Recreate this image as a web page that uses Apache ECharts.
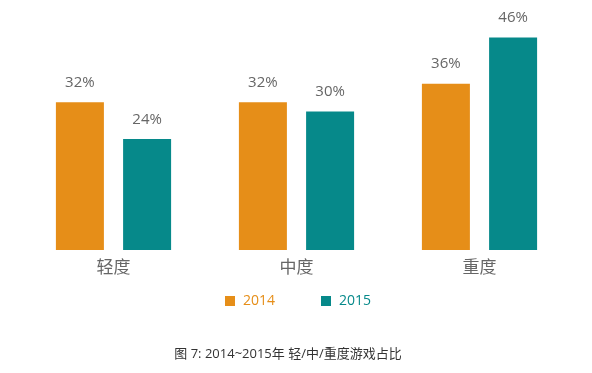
<!DOCTYPE html>
<html>
<head>
<meta charset="utf-8">
<script src="https://cdn.jsdelivr.net/npm/echarts@6/dist/echarts.min.js"></script>
<style>html,body{margin:0;padding:0;background:#fff;}#c{width:592px;height:373px;}</style>
</head>
<body>
<div id="c"></div>
<script>
var categories = ['轻度', '中度', '重度'];
var seriesNames = ['2014', '2015'];
var values2014 = [32, 32, 36];
var values2015 = [24, 30, 46];
var caption = '图 7: 2014~2015年 轻/中/重度游戏占比';

var colors = ['#E68E18', '#06898A'];
var font = '"Open Sans", "Noto Sans CJK SC", sans-serif';
var chart = echarts.init(document.getElementById('c'));
chart.setOption({
  animation: false,
  color: colors,
  textStyle: { fontFamily: font },
  grid: { left: 22, right: 21, top: 19, bottom: 123, containLabel: false },
  xAxis: {
    type: 'category',
    data: categories,
    axisLine: { show: false },
    axisTick: { show: false },
    axisLabel: { color: '#666', fontSize: 17, margin: 10, fontFamily: font }
  },
  yAxis: {
    type: 'value', min: 0, max: 50,
    show: false,
    splitLine: { show: false }
  },
  legend: {
    data: [
      { name: seriesNames[0], textStyle: { color: colors[0] } },
      { name: seriesNames[1], textStyle: { color: colors[1] } }
    ],
    left: 225, top: 294, padding: 0,
    itemWidth: 10, itemHeight: 10,
    itemGap: 46,
    icon: 'rect',
    textStyle: { fontSize: 14, fontFamily: font, padding: [0, 0, 0, 3] }
  },
  series: [
    {
      name: seriesNames[0], type: 'bar', data: values2014,
      barWidth: 48, barGap: '40%',
      label: { show: true, position: 'top', distance: 12, formatter: '{c}%', color: '#666', fontSize: 15, fontFamily: font }
    },
    {
      name: seriesNames[1], type: 'bar', data: values2015,
      barWidth: 48, barGap: '40%',
      label: { show: true, position: 'top', distance: 12, formatter: '{c}%', color: '#666', fontSize: 15, fontFamily: font }
    }
  ],
  graphic: [{
    type: 'text', x: 288, y: 348,
    style: { text: caption, fill: '#333', fontSize: 13, fontFamily: font, align: 'center' }
  }]
});
</script>
</body>
</html>
